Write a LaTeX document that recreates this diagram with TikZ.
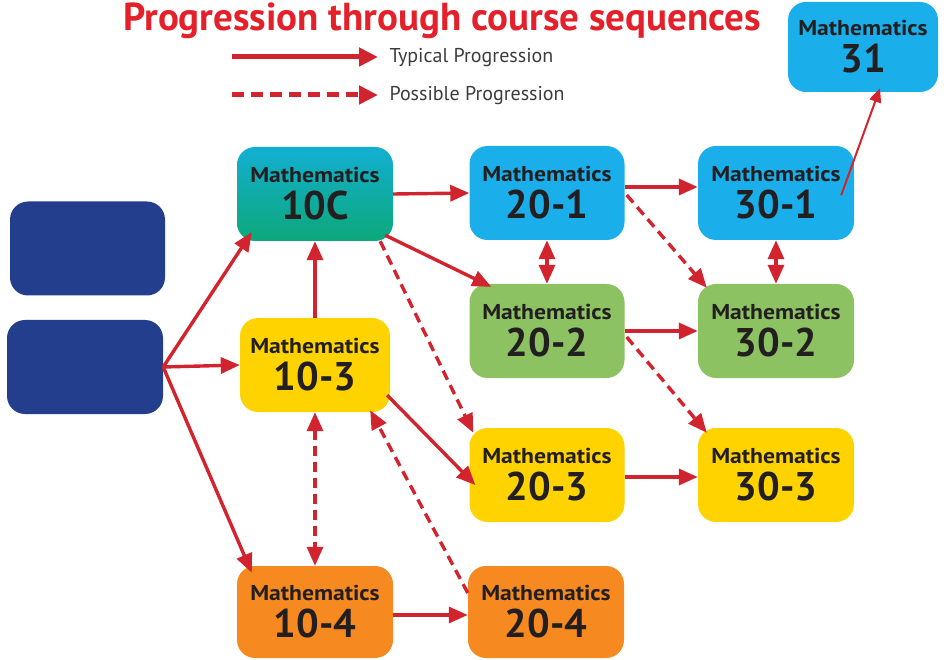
\documentclass[tikz,border=0pt]{standalone}
\usepackage{fontspec}
\setmainfont{PT Sans}
\newfontfamily\boxfont[FakeStretch=1.1]{PT Sans}
\usetikzlibrary{arrows.meta}
\definecolor{navy}{HTML}{243E8E}
\definecolor{sky}{HTML}{1AAFEA}
\definecolor{lgreen}{HTML}{8DC263}
\definecolor{yel}{HTML}{FFD300}
\definecolor{orng}{HTML}{F68A20}
\definecolor{tealtop}{HTML}{12AFD2}
\definecolor{tealbot}{HTML}{0DA87A}
\definecolor{ared}{HTML}{D2242E}
\definecolor{tred}{HTML}{E4202A}
\definecolor{txt}{HTML}{231F20}
\definecolor{lgray}{HTML}{3C3C3C}
\newcommand\numtxt[1]{{\setmainfont{PT Sans}\fontsize{40}{40}\selectfont\bfseries #1}}
\tikzset{
  box/.style={rounded corners=18pt, minimum width=155pt, minimum height=94pt,
    inner sep=0pt, align=center, text=txt, font=\boxfont\fontsize{21.5}{37}\selectfont\bfseries},
  arr/.style={draw=ared, line width=3.4pt, -{Triangle[length=19pt,width=16pt]}},
  darr/.style={arr, dash pattern=on 10pt off 6pt},
  dbl/.style={draw=ared, line width=3.4pt, {Triangle[length=19pt,width=16pt]}-{Triangle[length=19pt,width=16pt]}},
  ddbl/.style={dbl, dash pattern=on 10pt off 6pt},
}
\begin{document}
\begin{tikzpicture}[x=1pt,y=-1pt]
\useasboundingbox (0,0) rectangle (948,660);
% title and legend
\node[font=\fontsize{39}{39}\selectfont\bfseries, text=tred] (title) at (442,21) {Progression through course sequences};
\coordinate (l1a) at (232,57); \coordinate (l1b) at (378,57);
\coordinate (l2a) at (232,95); \coordinate (l2b) at (378,95);
\draw[draw=ared, line width=5pt, -{Triangle[length=19pt,width=18pt]}] (l1a) -- (l1b);
\draw[draw=ared, line width=5pt, dash pattern=on 12pt off 7pt, -{Triangle[length=19pt,width=18pt]}] (l2a) -- (l2b);
\node[anchor=west, font=\fontsize{20}{20}\selectfont, text=lgray] (lt1) at (386,58) {Typical Progression};
\node[anchor=west, font=\fontsize{20}{20}\selectfont, text=lgray] (lt2) at (386,96) {Possible Progression};
% boxes
\node[box, fill=navy] (blueA) at (87.5,248.5) {};
\node[box, fill=navy, minimum width=156pt] (blueB) at (85,367) {};
\node[box, top color=tealtop, bottom color=tealbot, minimum width=156pt] (m10C) at (315,194) {Mathematics\\\numtxt{10C}};
\node[box, fill=yel, minimum width=150pt] (m103) at (315,365) {Mathematics\\\numtxt{10-3}};
\node[box, fill=orng, minimum width=156pt, minimum height=92pt] (m104) at (315,612) {Mathematics\\\numtxt{10-4}};
\node[box, fill=sky] (m201) at (547,193) {Mathematics\\\numtxt{20-1}};
\node[box, fill=lgreen] (m202) at (547,331) {Mathematics\\\numtxt{20-2}};
\node[box, fill=yel] (m203) at (547,475) {Mathematics\\\numtxt{20-3}};
\node[box, fill=orng, minimum width=156pt, minimum height=92pt] (m204) at (546,612) {Mathematics\\\numtxt{20-4}};
\node[box, fill=sky, minimum width=156pt] (m301) at (776,193) {Mathematics\\\numtxt{30-1}};
\node[box, fill=lgreen, minimum width=156pt] (m302) at (776,331) {Mathematics\\\numtxt{30-2}};
\node[box, fill=yel, minimum width=156pt] (m303) at (776,475) {Mathematics\\\numtxt{30-3}};
\node[box, fill=sky, minimum width=150pt, minimum height=90pt] (m31) at (863,47) {Mathematics\\\numtxt{31}};
% connectors
\draw[arr] (blueB.east) -- ([shift={(15,-9)}]m10C.south west);
\draw[arr] (blueB.east) -- (m103.west);
\draw[arr] (blueB.east) -- ([shift={(15,7)}]m104.north west);
\draw[arr] (m103.north) -- (m10C.south);
\draw[arr] (m10C.east) -- (m201.west);
\draw[arr] ([shift={(-8,-6)}]m10C.south east) -- ([shift={(22,3)}]m202.north west);
\draw[darr] ([shift={(-13,0)}]m10C.south east) -- ([shift={(4,5)}]m203.north west);
\draw[dbl] (m201.south) -- (m202.north);
\draw[arr] ([shift={(0,-6)}]m201.east) -- ([shift={(0,-6)}]m301.west);
\draw[darr] ([shift={(2,2)}]m201.east) -- ([shift={(9,4)}]m302.north west);
\draw[dbl] (m301.south) -- (m302.north);
\draw[arr] (m202.east) -- (m302.west);
\draw[darr] ([shift={(2,6)}]m202.east) -- ([shift={(9,5)}]m303.north west);
\draw[arr] ([shift={(-3,-17)}]m103.south east) -- ([shift={(6,10)}]m203.west);
\draw[arr] ([shift={(0,2)}]m203.east) -- ([shift={(0,2)}]m303.west);
\draw[ddbl] (m103.south) -- (m104.north);
\draw[darr] ([shift={(0,-19)}]m204.west) -- ([shift={(-20,-2)}]m103.south east);
\draw[arr] ([shift={(0,3)}]m104.east) -- ([shift={(0,3)}]m204.west);
\draw[draw=ared, line width=2pt, -{Triangle[length=14pt,width=12pt]}] ([shift={(-13,-45)}]m301.south east) -- ([shift={(17,-4)}]m31.south);
\end{tikzpicture}
\end{document}
